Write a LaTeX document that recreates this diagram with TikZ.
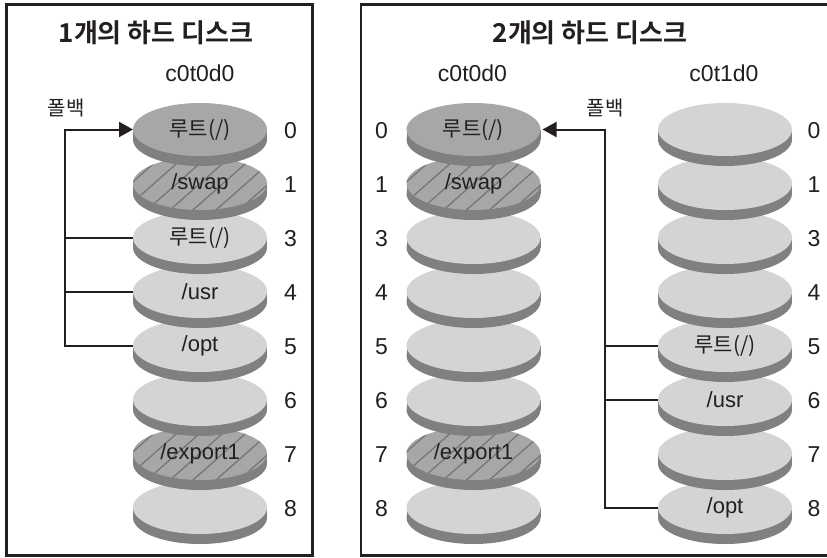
\documentclass[tikz,border=0pt]{standalone}
\usepackage{fontspec}
\setmainfont{Liberation Sans}
\newfontfamily\kr{Noto Sans CJK KR}[BoldFont={Noto Sans CJK KR Bold}]
\usetikzlibrary{arrows.meta}
\definecolor{faceL}{RGB}{212,212,214}
\definecolor{faceD}{RGB}{167,167,169}
\definecolor{sidecol}{RGB}{128,128,130}
\definecolor{hatchcol}{RGB}{118,118,120}
\definecolor{ink}{RGB}{35,31,32}
\tikzset{
  lbl/.style={font=\fontsize{22}{26}\selectfont, text=ink, inner sep=0pt},
  krlbl/.style={font=\kr\fontsize{21}{26}\selectfont, text=ink, inner sep=0pt},
  num/.style={font=\fontsize{23}{27}\selectfont, text=ink, inner sep=0pt},
  title/.style={font=\kr\bfseries\fontsize{26}{30}\selectfont, text=ink, inner sep=0pt},
  fallback/.style={font=\kr\fontsize{20}{24}\selectfont, text=ink, inner sep=0pt},
  frame/.style={draw=ink, line width=2.2pt},
  conn/.style={draw=ink, line width=2pt},
  arr/.style={-{Triangle[length=14pt,width=15pt]}},
  hatchline/.style={draw=hatchcol, line width=1.3pt},
}
% #1 name, #2 cx, #3 cy, #4 face colour, #5 hatched (1/0), #6 label style, #7 label
\newcommand{\dsk}[7]{%
  \fill[sidecol] (#2-67,#3) rectangle (#2+67,#3+10);
  \fill[sidecol] (#2,#3+10) ellipse[x radius=67, y radius=26.5];
  \fill[#4] (#2,#3) ellipse[x radius=67, y radius=26.5];
  \ifnum#5=1
    \begin{scope}
      \clip (#2,#3) ellipse[x radius=67, y radius=26.5];
      \foreach \k in {-5,...,5}
        \draw[hatchline] (#2+\k*23-34,#3+30) -- (#2+\k*23+34,#3-30);
    \end{scope}
  \fi
  \coordinate (#1-w) at (#2-67,#3);
  \coordinate (#1-e) at (#2+67,#3);
  \node[#6] (#1) at (#2,#3) {#7};
}
\begin{document}
\begin{tikzpicture}[x=1pt,y=-1pt]
\useasboundingbox (0,0) rectangle (827,557);
\fill[white] (0,0) rectangle (827,557);
% frames
\draw[frame] (6.5,4.5) rectangle (312.5,555.5);
\draw[frame] (361,4.5) rectangle (840,555.5);
% titles
\node[title] (tL) at (156,33) {1개의 하드 디스크};
\node[title] (tR) at (590,33) {2개의 하드 디스크};
\node[num] (hL) at (200,73) {c0t0d0};
\node[num] (hM) at (472.5,73) {c0t0d0};
\node[num] (hR) at (724,73) {c0t1d0};
% left column (bottom to top)
\dsk{L8}{200}{507.5}{faceL}{0}{lbl}{}
\dsk{L7}{200}{453.5}{faceD}{1}{lbl}{/export1}
\dsk{L6}{200}{399.5}{faceL}{0}{lbl}{}
\dsk{L5}{200}{345.5}{faceL}{0}{lbl}{/opt}
\dsk{L4}{200}{291.5}{faceL}{0}{lbl}{/usr}
\dsk{L3}{200}{237.5}{faceL}{0}{krlbl}{루트(/)}
\dsk{L1}{200}{183.5}{faceD}{1}{lbl}{/swap}
\dsk{L0}{200}{129.5}{faceD}{0}{krlbl}{루트(/)}
% middle column
\dsk{M8}{473.5}{507.5}{faceL}{0}{lbl}{}
\dsk{M7}{473.5}{453.5}{faceD}{1}{lbl}{/export1}
\dsk{M6}{473.5}{399.5}{faceL}{0}{lbl}{}
\dsk{M5}{473.5}{345.5}{faceL}{0}{lbl}{}
\dsk{M4}{473.5}{291.5}{faceL}{0}{lbl}{}
\dsk{M3}{473.5}{237.5}{faceL}{0}{lbl}{}
\dsk{M1}{473.5}{183.5}{faceD}{1}{lbl}{/swap}
\dsk{M0}{473.5}{129.5}{faceD}{0}{krlbl}{루트(/)}
% right column
\dsk{R8}{725}{507.5}{faceL}{0}{lbl}{/opt}
\dsk{R7}{725}{453.5}{faceL}{0}{lbl}{}
\dsk{R6}{725}{399.5}{faceL}{0}{lbl}{/usr}
\dsk{R5}{725}{345.5}{faceL}{0}{krlbl}{루트(/)}
\dsk{R4}{725}{291.5}{faceL}{0}{lbl}{}
\dsk{R3}{725}{237.5}{faceL}{0}{lbl}{}
\dsk{R1}{725}{183.5}{faceL}{0}{lbl}{}
\dsk{R0}{725}{129.5}{faceL}{0}{lbl}{}
% slice numbers
\foreach \n/\y in {0/129.5,1/183.5,3/237.5,4/291.5,5/345.5,6/399.5,7/453.5,8/507.5}{
  \node[num] (nL\n) at (290.5,\y+1) {\n};
  \node[num] (nM\n) at (381.5,\y+1) {\n};
  \node[num] (nR\n) at (814,\y+1) {\n};
}
% fallback labels
\node[fallback] (fbL) at (66,108) {폴백};
\node[fallback] (fbR) at (605,108) {폴백};
% connectors left
\coordinate (Lbus) at (65,345.5);
\draw[conn,arr] (L5-w) -- (Lbus) |- (L0-w);
\draw[conn] (L3-w) -- (L3-w -| Lbus);
\draw[conn] (L4-w) -- (L4-w -| Lbus);
% connectors right
\coordinate (Rbus) at (605,507.5);
\draw[conn,arr,shorten >=2pt] (R8-w) -- (Rbus) |- (M0-e);
\draw[conn] (R5-w) -- (R5-w -| Rbus);
\draw[conn] (R6-w) -- (R6-w -| Rbus);
\end{tikzpicture}
\end{document}
